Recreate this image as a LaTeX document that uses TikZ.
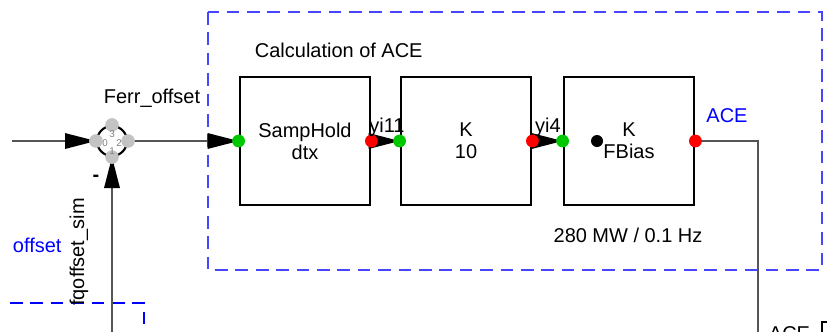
\documentclass[tikz,border=0pt]{standalone}
\usepackage{fontspec}
\setmainfont{Liberation Sans}
\usetikzlibrary{arrows.meta, positioning}
\definecolor{port_green}{RGB}{0, 200, 0}
\definecolor{port_red}{RGB}{255, 0, 0}
\definecolor{port_gray}{RGB}{195, 195, 195}
\definecolor{frame_blue}{RGB}{70, 70, 255}
\definecolor{label_blue}{RGB}{0, 0, 255}
\definecolor{wire_gray}{RGB}{85, 85, 85}

\begin{document}
\begin{tikzpicture}[x=0.025cm, y=-0.025cm,
    font=\fontsize{14.2pt}{15.6pt}\selectfont,
    blk/.style={draw, line width=2pt, minimum width=3.25cm, minimum height=3.2cm, align=center, inner sep=0pt},
    sig/.style={draw=wire_gray, line width=1.2pt, -{Triangle[length=22pt, width=11pt, color=black]}},
    wire/.style={draw=wire_gray, line width=0.8pt},
    frame/.style={frame_blue, line width=1pt, dash pattern=on 9pt off 5.5pt},
    sumnum/.style={font=\fontsize{7pt}{7pt}\selectfont, text=gray, inner sep=0pt}]

      \useasboundingbox (0,0) rectangle (827,331);
      \clip (0,0) rectangle (827,331);

      % 1. Marcos punteados
      \draw[frame] (208,12) rectangle (822,270);
      \draw[frame, label_blue] (10,303) -| (144,340);
      \node[anchor=base west] (title) at (250,57) {Calculation of ACE};

      % 2. Bloques
      \node[blk] (samp) at (305,141) {SampHold\\dtx};
      \node[blk] (kgain) at (466,141) {K\\10};
      \node[blk] (fbias) at (629,141) {K\\FBias};
      \fill (597,141) circle (0.15cm);

      % Puertos
      \coordinate (samp-in) at (samp.west);
      \coordinate (samp-out) at (samp.east);
      \coordinate (kgain-in) at (kgain.west);
      \coordinate (kgain-out) at (kgain.east);
      \coordinate (fbias-in) at (fbias.west);
      \coordinate (fbias-out) at (fbias.east);

      % Sumador
      \node[circle, draw, line width=1.5pt, minimum size=0.75cm, inner sep=0pt] (sum) at (112,141) {};
      \coordinate (sum-w) at (sum.west);
      \coordinate (sum-e) at (sum.east);
      \coordinate (sum-n) at (sum.north);
      \coordinate (sum-s) at (sum.south);
      \coordinate (src) at (12,141);
      \coordinate (fq) at (112,340);
      \coordinate (acedown) at (758,340);

      % 3. Conexiones
      \draw[sig] (src) -- (sum-w);
      \draw[sig] (fq) -- (sum-s);
      \draw[sig] (sum-e) -- (samp-in);
      \draw[sig] (samp-out) -- (kgain-in);
      \draw[sig] (kgain-out) -- (fbias-in);
      \draw[wire] (fbias-out) -| (acedown);

      % Puntos de los puertos
      \foreach \p in {sum-w, sum-e, sum-n, sum-s}
        \fill[port_gray] (\p) circle (0.17cm);
      \foreach \p in {samp-in, kgain-in, fbias-in}
        \fill[port_green] (\p) circle (0.16cm);
      \foreach \p in {samp-out, kgain-out, fbias-out}
        \fill[port_red] (\p) circle (0.16cm);

      \node[sumnum] (n0) at (105,143) {0};
      \node[sumnum] (n3) at (112,134) {3};
      \node[sumnum] (n2) at (119,143) {2};
      \node[sumnum] (n1) at (112,151) {1};

      % 4. Textos
      \node (ferr) at (152,98) {Ferr\_offset};
      \node[font=\fontsize{14.2pt}{15.6pt}\bfseries] (minus) at (96,178) {-};
      \node[rotate=90] (fqlabel) at (79,252) {fqoffset\_sim};
      \node[anchor=base west, text=label_blue] (offlabel) at (8,252) {offset};
      \node[anchor=base] (yi11) at (387,132) {yi11};
      \node[anchor=base] (yi4) at (548,132) {yi4};
      \node[anchor=base, text=label_blue] (acelabel) at (727,122) {ACE};
      \node[anchor=base] (scale) at (628,242) {280 MW / 0.1 Hz};

      % Bloque siguiente (cortado)
      \draw[line width=2pt] (822,345) |- (840,322);
      \node[anchor=base west] (acenext) at (764,340) {ACE};

    \end{tikzpicture}
\end{document}
